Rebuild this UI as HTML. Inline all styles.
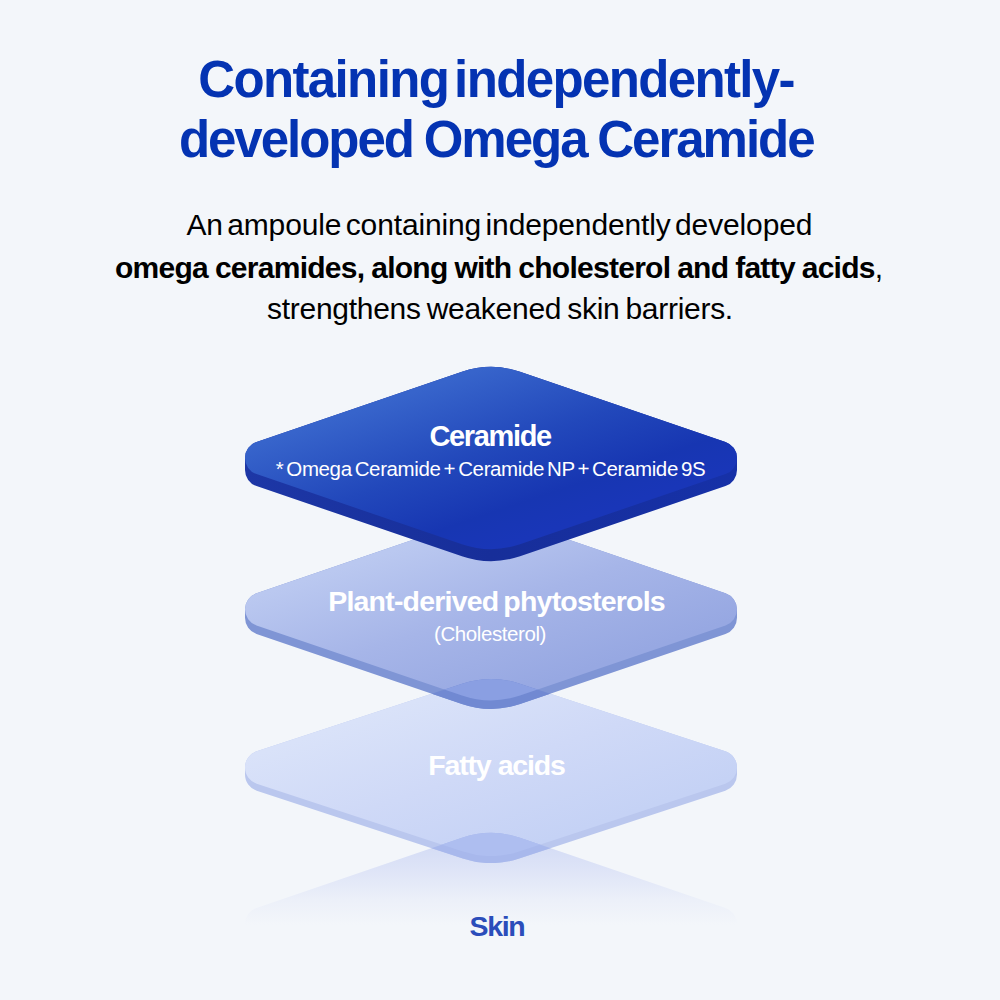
<!DOCTYPE html>
<html><head><meta charset="utf-8"><style>
html,body{margin:0;padding:0;width:1000px;height:1000px;overflow:hidden;background:#F3F6FA}
body{position:relative;font-family:"Liberation Sans",sans-serif}
.t{position:absolute;white-space:nowrap;line-height:1}
</style></head><body>
<svg width="1000" height="1000" viewBox="0 0 1000 1000" style="position:absolute;left:0;top:0">
<defs>
 <linearGradient id="g1" gradientUnits="userSpaceOnUse" x1="463.2" y1="375.6" x2="518.8" y2="540.4"><stop offset="0" stop-color="#3764CB"/><stop offset="0.45" stop-color="#2248BB"/><stop offset="0.8" stop-color="#1736B2"/><stop offset="1" stop-color="#1936B8"/></linearGradient>
 <linearGradient id="g2" gradientUnits="userSpaceOnUse" x1="463.2" y1="526.9" x2="518.8" y2="691.7"><stop offset="0" stop-color="#BAC8F0"/><stop offset="0.5" stop-color="#A6B5E8"/><stop offset="1" stop-color="#97A8E2"/></linearGradient>
 <linearGradient id="g3" gradientUnits="userSpaceOnUse" x1="463.2" y1="685.1" x2="518.8" y2="849.9"><stop offset="0" stop-color="#D9E2F9"/><stop offset="0.5" stop-color="#CFD9F7"/><stop offset="1" stop-color="#C5D2F5"/></linearGradient>
 <linearGradient id="gs" gradientUnits="userSpaceOnUse" x1="0" y1="833" x2="0" y2="925">
  <stop offset="0" stop-color="#CFD8F4"/><stop offset="0.4" stop-color="#DEE4F7"/><stop offset="0.73" stop-color="#ECF0F9"/><stop offset="1" stop-color="#F3F6FA"/>
 </linearGradient>
 <linearGradient id="s1" gradientUnits="userSpaceOnUse" x1="245" y1="0" x2="737" y2="0"><stop offset="0" stop-color="#1D37A6"/><stop offset="0.5" stop-color="#172E99"/><stop offset="1" stop-color="#1631A8"/></linearGradient>
 <clipPath id="c2"><path d="M245.00 609.30 A17 17 0 0 1 256.51 593.21 L461.94 523.12 A90 90 0 0 1 520.06 523.12 L725.49 593.21 A17 17 0 0 1 737.00 609.30 L737.00 617.80 A17 17 0 0 1 725.49 633.89 L520.06 703.98 A90 90 0 0 1 461.94 703.98 L256.51 633.89 A17 17 0 0 1 245.00 617.80 Z" /></clipPath>
 <clipPath id="f2"><path d="M256.51 625.39 A17 17 0 0 1 256.51 593.21 L461.94 523.12 A90 90 0 0 1 520.06 523.12 L725.49 593.21 A17 17 0 0 1 725.49 625.39 L520.06 695.48 A90 90 0 0 1 461.94 695.48 Z" /></clipPath>
 <clipPath id="c3"><path d="M245.00 767.50 A17 17 0 0 1 256.69 751.35 L462.87 683.51 A90 90 0 0 1 519.13 683.51 L725.31 751.35 A17 17 0 0 1 737.00 767.50 L737.00 774.50 A17 17 0 0 1 725.31 790.65 L519.13 858.49 A90 90 0 0 1 462.87 858.49 L256.69 790.65 A17 17 0 0 1 245.00 774.50 Z" /></clipPath>
 <clipPath id="f3"><path d="M256.69 783.65 A17 17 0 0 1 256.69 751.35 L462.87 683.51 A90 90 0 0 1 519.13 683.51 L725.31 751.35 A17 17 0 0 1 725.31 783.65 L519.13 851.49 A90 90 0 0 1 462.87 851.49 Z" /></clipPath>
</defs>
<path d="M256.51 940.09 A17 17 0 0 1 256.51 907.91 L461.94 837.82 A90 90 0 0 1 520.06 837.82 L725.49 907.91 A17 17 0 0 1 725.49 940.09 L520.06 1010.18 A90 90 0 0 1 461.94 1010.18 Z" fill="url(#gs)"/>
<path d="M245.00 767.50 A17 17 0 0 1 256.69 751.35 L462.87 683.51 A90 90 0 0 1 519.13 683.51 L725.31 751.35 A17 17 0 0 1 737.00 767.50 L737.00 774.50 A17 17 0 0 1 725.31 790.65 L519.13 858.49 A90 90 0 0 1 462.87 858.49 L256.69 790.65 A17 17 0 0 1 245.00 774.50 Z" fill="#BAC7EE"/><path d="M256.69 783.65 A17 17 0 0 1 256.69 751.35 L462.87 683.51 A90 90 0 0 1 519.13 683.51 L725.31 751.35 A17 17 0 0 1 725.31 783.65 L519.13 851.49 A90 90 0 0 1 462.87 851.49 Z" fill="url(#g3)"/>
<g clip-path="url(#c3)"><path d="M256.51 940.09 A17 17 0 0 1 256.51 907.91 L461.94 837.82 A90 90 0 0 1 520.06 837.82 L725.49 907.91 A17 17 0 0 1 725.49 940.09 L520.06 1010.18 A90 90 0 0 1 461.94 1010.18 Z" fill="#A8B8EC"/></g>
<g clip-path="url(#f3)"><path d="M256.51 940.09 A17 17 0 0 1 256.51 907.91 L461.94 837.82 A90 90 0 0 1 520.06 837.82 L725.49 907.91 A17 17 0 0 1 725.49 940.09 L520.06 1010.18 A90 90 0 0 1 461.94 1010.18 Z" fill="#AEBEF0"/></g>
<path d="M245.00 609.30 A17 17 0 0 1 256.51 593.21 L461.94 523.12 A90 90 0 0 1 520.06 523.12 L725.49 593.21 A17 17 0 0 1 737.00 609.30 L737.00 617.80 A17 17 0 0 1 725.49 633.89 L520.06 703.98 A90 90 0 0 1 461.94 703.98 L256.51 633.89 A17 17 0 0 1 245.00 617.80 Z" fill="#7F95D5"/><path d="M256.51 625.39 A17 17 0 0 1 256.51 593.21 L461.94 523.12 A90 90 0 0 1 520.06 523.12 L725.49 593.21 A17 17 0 0 1 725.49 625.39 L520.06 695.48 A90 90 0 0 1 461.94 695.48 Z" fill="url(#g2)"/>
<g clip-path="url(#c2)"><path d="M245.00 767.50 A17 17 0 0 1 256.69 751.35 L462.87 683.51 A90 90 0 0 1 519.13 683.51 L725.31 751.35 A17 17 0 0 1 737.00 767.50 L737.00 774.50 A17 17 0 0 1 725.31 790.65 L519.13 858.49 A90 90 0 0 1 462.87 858.49 L256.69 790.65 A17 17 0 0 1 245.00 774.50 Z" fill="#7189D2"/></g>
<g clip-path="url(#f2)"><path d="M245.00 767.50 A17 17 0 0 1 256.69 751.35 L462.87 683.51 A90 90 0 0 1 519.13 683.51 L725.31 751.35 A17 17 0 0 1 737.00 767.50 L737.00 774.50 A17 17 0 0 1 725.31 790.65 L519.13 858.49 A90 90 0 0 1 462.87 858.49 L256.69 790.65 A17 17 0 0 1 245.00 774.50 Z" fill="#8A9FE2"/></g>
<path d="M245.00 458.00 A17 17 0 0 1 256.51 441.91 L461.94 371.82 A90 90 0 0 1 520.06 371.82 L725.49 441.91 A17 17 0 0 1 737.00 458.00 L737.00 470.00 A17 17 0 0 1 725.49 486.09 L520.06 556.18 A90 90 0 0 1 461.94 556.18 L256.51 486.09 A17 17 0 0 1 245.00 470.00 Z" fill="url(#s1)"/><path d="M256.51 474.09 A17 17 0 0 1 256.51 441.91 L461.94 371.82 A90 90 0 0 1 520.06 371.82 L725.49 441.91 A17 17 0 0 1 725.49 474.09 L520.06 544.18 A90 90 0 0 1 461.94 544.18 Z" fill="url(#g1)"/>
</svg>
<div class="t" style="left:198.24px;top:54.45px;font-size:51px;font-weight:700;letter-spacing:-1.629px;word-spacing:-6.68px;color:#0433B2">Containing independently-</div><div class="t" style="left:178.88px;top:113.65px;font-size:51px;font-weight:700;letter-spacing:-2.012px;word-spacing:-1.46px;color:#0433B2">developed Omega Ceramide</div><div class="t" style="left:186.4px;top:210.0px;font-size:30px;font-weight:400;letter-spacing:-0.132px;word-spacing:-3.83px;color:#000000">An ampoule containing independently developed</div><div class="t" style="left:115.04px;top:252.5px;font-size:30px;font-weight:400;letter-spacing:-0.732px;word-spacing:-0.75px;color:#000000"><b>omega ceramides, along with cholesterol and fatty acids</b>,</div><div class="t" style="left:267.0px;top:294.0px;font-size:30px;font-weight:400;letter-spacing:-0.283px;word-spacing:-2.03px;color:#000000">strengthens weakened skin barriers.</div><div class="t" style="left:429.4px;top:422.05px;font-size:29px;font-weight:700;letter-spacing:-1.343px;word-spacing:0px;color:#FFFFFF">Ceramide</div><div class="t" style="left:275.69px;top:458.57px;font-size:20.5px;font-weight:400;letter-spacing:-0.381px;word-spacing:-2.27px;color:#FFFFFF">* Omega Ceramide + Ceramide NP + Ceramide 9S</div><div class="t" style="left:328.2px;top:586.57px;font-size:28.5px;font-weight:700;letter-spacing:-0.789px;word-spacing:-2.25px;color:#FFFFFF">Plant-derived phytosterols</div><div class="t" style="left:434px;top:623.58px;font-size:20.5px;font-weight:400;letter-spacing:-0.417px;word-spacing:0px;color:#FFFFFF">(Cholesterol)</div><div class="t" style="left:428.2px;top:751.17px;font-size:28.5px;font-weight:700;letter-spacing:-1.16px;word-spacing:0.4px;color:#FFFFFF">Fatty acids</div><div class="t" style="left:469.5px;top:912.07px;font-size:28.5px;font-weight:700;letter-spacing:-1.367px;word-spacing:0px;color:#2B4DBA">Skin</div>
</body></html>
